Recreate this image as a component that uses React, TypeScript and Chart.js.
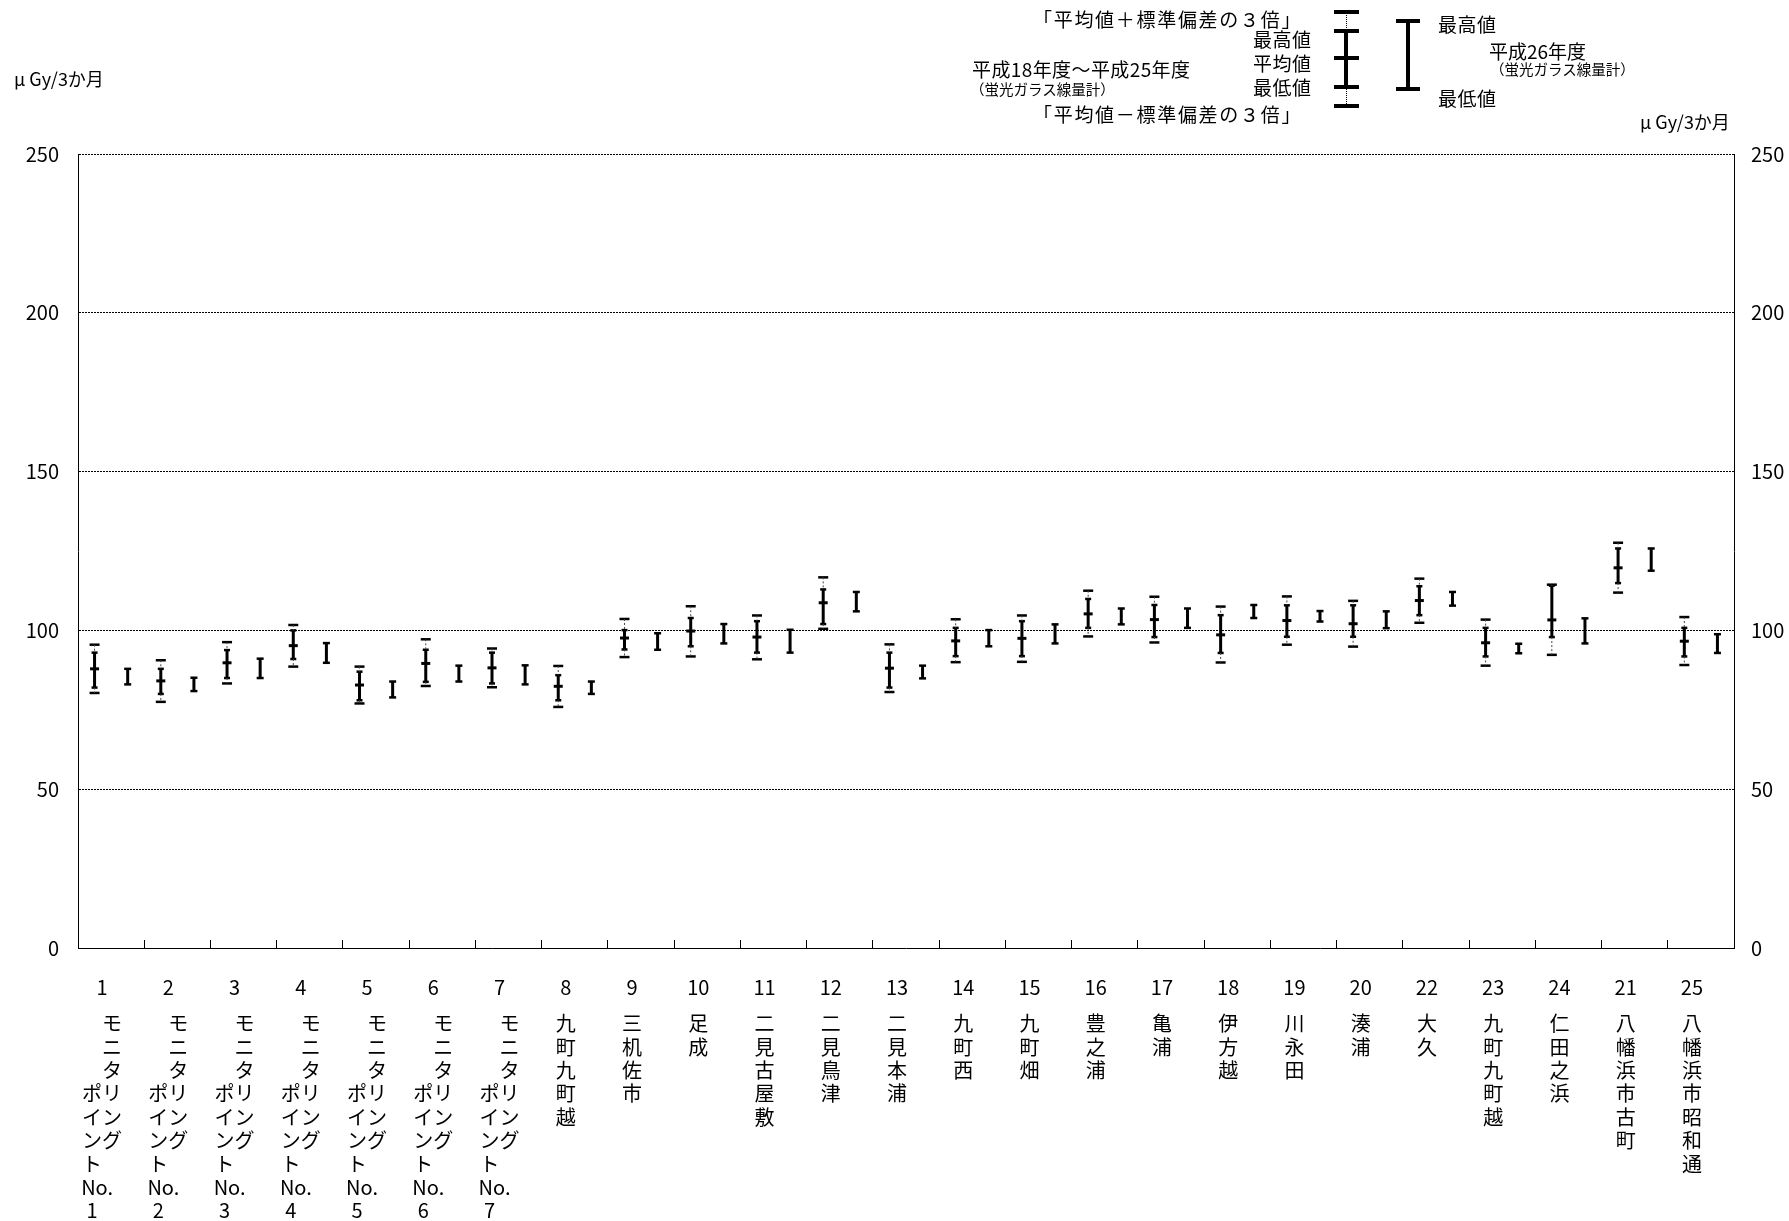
import React, { useEffect, useRef } from 'react';
import { Chart, registerables } from 'chart.js';

Chart.register(...registerables);

const FONT = "'Noto Sans CJK JP', 'Noto Sans', sans-serif";

// category numbers (x tick labels)
const codes = ['1','2','3','4','5','6','7','8','9','10','11','12','13','14','15','16','17','18','19','20','22','23','24','21','25'];

// station names, laid out as vertical rows
const nameRows: string[][] = [
  ['　モ','　ニ','　タ','ポリ','イン','ング','ト　','No.\u2002','1　'],
  ['　モ','　ニ','　タ','ポリ','イン','ング','ト　','No.\u2002','2　'],
  ['　モ','　ニ','　タ','ポリ','イン','ング','ト　','No.\u2002','3　'],
  ['　モ','　ニ','　タ','ポリ','イン','ング','ト　','No.\u2002','4　'],
  ['　モ','　ニ','　タ','ポリ','イン','ング','ト　','No.\u2002','5　'],
  ['　モ','　ニ','　タ','ポリ','イン','ング','ト　','No.\u2002','6　'],
  ['　モ','　ニ','　タ','ポリ','イン','ング','ト　','No.\u2002','7　'],
  ['九','町','九','町','越'],
  ['三','机','佐','市'],
  ['足','成'],
  ['二','見','古','屋','敷'],
  ['二','見','鳥','津'],
  ['二','見','本','浦'],
  ['九','町','西'],
  ['九','町','畑'],
  ['豊','之','浦'],
  ['亀','浦'],
  ['伊','方','越'],
  ['川','永','田'],
  ['湊','浦'],
  ['大','久'],
  ['九','町','九','町','越'],
  ['仁','田','之','浜'],
  ['八','幡','浜','市','古','町'],
  ['八','幡','浜','市','昭','和','通'],
];

// H18–H25 (glass dosimeter): mean+3σ, max, mean, min, mean-3σ
const histUpper = [95.5, 90.6, 96.3, 101.7, 88.6, 97.2, 94.3, 88.8, 103.6, 107.6, 104.7, 116.7, 95.6, 103.5, 104.7, 112.5, 110.6, 107.5, 110.7, 109.3, 116.3, 103.4, 114.4, 127.6, 104.2];
const histMax   = [93.0, 87.9, 93.8, 100.0, 87.0, 93.9, 93.0, 85.9, 100.1, 103.9, 102.9, 112.9, 93.0, 100.8, 102.9, 109.9, 108.0, 104.8, 107.9, 107.9, 113.9, 100.8, 114.1, 125.8, 100.8];
const histMean  = [87.9, 84.1, 89.8, 95.2, 82.8, 89.6, 88.2, 82.4, 97.6, 99.8, 97.9, 108.7, 88.1, 96.7, 97.5, 105.2, 103.4, 98.6, 103.1, 102.1, 109.4, 96.1, 103.3, 119.7, 96.6];
const histMin   = [82.0, 80.0, 85.0, 91.0, 78.0, 83.8, 83.3, 78.0, 94.0, 95.0, 93.0, 102.0, 82.0, 91.9, 91.9, 100.8, 97.9, 92.9, 98.0, 98.0, 104.8, 91.8, 97.9, 114.9, 91.8];
const histLower = [80.3, 77.5, 83.3, 88.6, 77.0, 82.5, 82.1, 75.9, 91.6, 91.8, 90.9, 100.5, 80.6, 90.0, 90.1, 98.1, 96.2, 89.9, 95.5, 94.9, 102.4, 88.9, 92.3, 111.9, 89.1];

// H26 (glass dosimeter): max, min
const h26Max = [87.9, 85.1, 91.1, 96.0, 83.9, 88.9, 89.0, 83.9, 99.1, 102.0, 100.2, 112.1, 88.9, 100.1, 101.9, 106.9, 106.9, 108.0, 106.1, 106.0, 112.1, 95.8, 103.8, 125.8, 98.8];
const h26Min = [83.0, 80.9, 85.0, 89.8, 78.9, 83.9, 83.0, 80.0, 93.9, 95.9, 93.0, 106.0, 84.9, 95.0, 95.9, 101.9, 100.8, 103.9, 102.8, 100.7, 107.8, 92.8, 95.9, 118.8, 92.9];

const yTicks = [0, 50, 100, 150, 200, 250];

const OFF = 0.25;

export default function App() {
  const ref = useRef<HTMLCanvasElement>(null);

  useEffect(() => {
    if (!ref.current) return;
    const seg = (x: number, a: number, b: number) => [{ x, y: a }, { x, y: b }, { x, y: null as any }];
    const histSolid = codes.flatMap((_, i) => seg(i - OFF, histMax[i], histMin[i]));
    const histDot = codes.flatMap((_, i) => [...seg(i - OFF, histUpper[i], histMax[i]), ...seg(i - OFF, histMin[i], histLower[i])]);
    const histOuter = codes.flatMap((_, i) => [{ x: i - OFF, y: histUpper[i] }, { x: i - OFF, y: histLower[i] }]);
    const histInner = codes.flatMap((_, i) => [{ x: i - OFF, y: histMax[i] }, { x: i - OFF, y: histMin[i] }]);
    const histMeanPts = codes.map((_, i) => ({ x: i - OFF, y: histMean[i] }));
    const h26Line = codes.flatMap((_, i) => seg(i + OFF, h26Max[i], h26Min[i]));
    const h26Caps = codes.flatMap((_, i) => [{ x: i + OFF, y: h26Max[i] }, { x: i + OFF, y: h26Min[i] }]);

    const lineDs = (data: any[], width: number, dash: number[] = [], color = '#000') => ({
      type: 'line' as const, data, xAxisID: 'xl', yAxisID: 'y',
      borderColor: color, borderWidth: width, borderDash: dash,
      pointRadius: 0, spanGaps: false, fill: false, tension: 0,
    });
    const capDs = (data: any[], radius: number, width: number) => ({
      type: 'line' as const, data, xAxisID: 'xl', yAxisID: 'y', showLine: false,
      pointStyle: 'line', pointRadius: radius, pointBorderWidth: width,
      pointBorderColor: '#000', pointBackgroundColor: '#000',
    });

    const tickFont = { family: FONT, size: 20, lineHeight: 1.17 };

    const chart = new Chart(ref.current, {
      type: 'line',
      data: {
        labels: codes,
        datasets: [
          lineDs(histDot, 1, [2, 2], '#444'),
          lineDs(histSolid, 3),
          lineDs(h26Line, 3),
          capDs(histOuter, 5, 2.5),
          capDs(histInner, 3, 2.5),
          capDs(histMeanPts, 4.5, 3),
          capDs(h26Caps, 3.5, 2.5),
        ] as any,
      },
      options: {
        responsive: false,
        animation: false,
        events: [],
        layout: { padding: { top: 154, left: 0, right: 0, bottom: 0 } },
        plugins: { legend: { display: false }, tooltip: { enabled: false }, title: { display: false } },
        scales: {
          xl: { type: 'linear', display: false, min: -0.5, max: codes.length - 0.5 },
          x: {
            type: 'category', position: 'bottom', offset: true, weight: 0,
            grid: { display: true, offset: true, drawOnChartArea: false, drawTicks: true, tickLength: -8, color: '#000', lineWidth: 1 },
            border: { display: true, color: '#000', width: 1 },
            ticks: { autoSkip: false, maxRotation: 0, minRotation: 0, padding: 36, labelOffset: -9, color: '#000', font: tickFont },
            afterFit: (s: any) => { s.height = 64; },
          },
          x2: {
            type: 'category', position: 'bottom', offset: true, weight: 1, labels: nameRows as any,
            grid: { display: false, drawTicks: false, drawOnChartArea: false },
            border: { display: false },
            ticks: { autoSkip: false, maxRotation: 0, minRotation: 0, padding: 0, labelOffset: -9, color: '#000', font: tickFont },
            afterFit: (s: any) => { s.height = 209; },
          },
          y: {
            type: 'linear', position: 'left', min: 0, max: 250,
            afterBuildTicks: (s: any) => { s.ticks = yTicks.map((v) => ({ value: v })); },
            grid: { color: '#000', lineWidth: 1, drawTicks: false },
            border: { display: true, color: '#000', width: 1, dash: [2, 1] },
            ticks: { padding: 19, color: '#000', font: { family: FONT, size: 20 } },
            afterFit: (s: any) => { s.width = 78; },
          },
          y2: {
            type: 'linear', position: 'right', min: 0, max: 250,
            afterBuildTicks: (s: any) => { s.ticks = yTicks.map((v) => ({ value: v })); },
            grid: { display: false, drawTicks: false, drawOnChartArea: false },
            border: { display: true, color: '#000', width: 1 },
            ticks: { padding: 17, color: '#000', font: { family: FONT, size: 20 } },
            afterFit: (s: any) => { s.width = 55; },
          },
        } as any,
      },
    });
    return () => chart.destroy();
  }, []);

  const txt = (s: string, left: number, cy: number, size = 19, spacing = 0) => (
    <div style={{ position: 'absolute', left, top: cy - size * 0.55, fontSize: size, lineHeight: 1, letterSpacing: spacing, whiteSpace: 'nowrap', fontFamily: FONT, color: '#000' }}>{s}</div>
  );
  const bar = (left: number, top: number, w: number, h: number) => (
    <div style={{ position: 'absolute', left, top, width: w, height: h, background: '#000' }} />
  );
  const cap = (cx: number, cy: number, w = 25) => bar(cx - w / 2, cy - 2, w, 4);

  return (
    <div style={{ position: 'fixed', left: 0, top: 0, width: 1789, height: 1221, background: '#fff', overflow: 'hidden' }}>
      <canvas ref={ref} width={1789} height={1221} style={{ position: 'absolute', left: 0, top: 0, width: 1789, height: 1221 }} />
      {txt('μ Gy/3か月', 14, 79, 18)}
      {txt('μ Gy/3か月', 1640, 122, 18)}
      {/* legend */}
      {txt('「平均値＋標準偏差の３倍」', 1033, 19, 19, 1.7)}
      {txt('最高値', 1253, 39, 19, 0.5)}
      {txt('平均値', 1253, 63, 19, 0.5)}
      {txt('最低値', 1253, 87, 19, 0.5)}
      {txt('平成18年度～平成25年度', 972, 69, 19, 0.4)}
      {txt('（蛍光ガラス線量計）', 970, 90, 14.5)}
      {txt('「平均値－標準偏差の３倍」', 1033, 114, 19, 1.7)}
      <div style={{ position: 'absolute', left: 1346, top: 11, width: 0, height: 95, borderLeft: '1px dotted #000' }} />
      {bar(1344, 30, 4, 57)}
      {cap(1346, 11.5)}
      {cap(1346, 30.5)}
      {cap(1346, 57.5)}
      {cap(1346, 87)}
      {cap(1346, 106)}
      {bar(1406, 21, 4, 68)}
      {cap(1408, 21, 24)}
      {cap(1408, 89, 24)}
      {txt('最高値', 1438, 24, 19, 0.5)}
      {txt('平成26年度', 1489, 51)}
      {txt('（蛍光ガラス線量計）', 1490, 70, 14.5)}
      {txt('最低値', 1438, 98, 19, 0.5)}
    </div>
  );
}
